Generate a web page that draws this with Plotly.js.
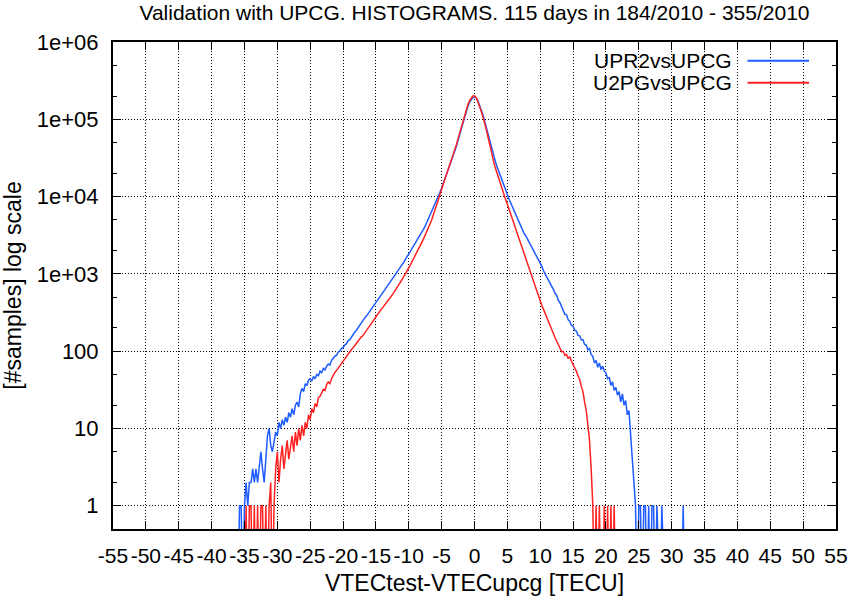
<!DOCTYPE html>
<html>
<head>
<meta charset="utf-8">
<script src="https://cdn.plot.ly/plotly-3.0.1.min.js"></script>
<style>
  html, body { margin: 0; padding: 0; background: #fff; }
  #chart { width: 850px; height: 598px; }
</style>
</head>
<body>
<div id="chart"></div>
<script>
// histogram bins, 0.25 TECU wide, counts
var BIN = 0.25;

// UPR2vsUPCG, first bin at -36 TECU (one row per TECU)
var upr2Start = -36;
var upr2Counts = [
  0, 1, 1, 0,            // -36
  1, 2, 1, 2,            // -35
  2, 3, 2, 3,
  2, 3, 5, 3,
  2, 4, 8, 10,           // -32
  6, 5, 7, 9,
  8, 12, 10, 13,         // -30
  11, 14, 12, 16,
  14, 18, 15, 20,
  22, 19, 28, 33,
  30, 38, 36, 42,
  44, 41, 47, 44,        // -25
  50, 48, 55, 52,
  60, 57, 64, 68,
  66, 76, 81, 86,
  88, 97, 100, 108,
  111, 120, 124, 136,    // -20
  140, 152, 160, 174,
  185, 200, 212, 230,
  244, 265, 280, 302,
  322, 345, 370, 400,
  425, 458, 490, 525,    // -15
  562, 602, 645, 692,
  741, 795, 851, 912,
  977, 1050, 1135, 1220,
  1318, 1420, 1549, 1660,
  1820, 1960, 2138, 2310, // -10
  2512, 2720, 2951, 3200,
  3467, 3800, 4169, 4650,
  5129, 5700, 6310, 7050,
  7943, 8900, 10000, 11350,
  12880, 14700, 16600, 19000, // -5
  21880, 25000, 28840, 33300,
  38900, 45200, 53700, 63800,
  77600, 92000, 109600, 128000,
  147900, 166000, 182000, 191000,
  195000, 190000, 175800, 156000, // 0
  134900, 116000, 97700, 81000,
  66070, 53700, 43650, 36300,
  30900, 26900, 23440, 20400,
  17780, 15500, 13490, 11800,
  10470, 9300, 8318, 7400, // 5
  6607, 5900, 5248, 4700,
  4169, 3760, 3388, 3160,
  2884, 2660, 2455, 2250,
  2042, 1860, 1698, 1550,
  1413, 1250, 1096, 990, // 10
  891, 820, 759, 690,
  630, 560, 530, 455,
  425, 372, 345, 300,
  295, 255, 245, 215,
  210, 185, 182, 160,    // 15
  158, 140, 140, 122,
  120, 104, 108, 90,
  86, 70, 76, 62,
  70, 58, 64, 55,
  52, 44, 46, 36,        // 20
  40, 31, 34, 27,
  30, 22, 28, 20,
  23, 15, 17, 8,
  4, 2, 1, 0,
  1, 1, 0, 1,            // 25
  1, 0, 1, 0,
  1, 1, 0, 1,
  0, 0, 1, 0,
  0, 0, 0, 0,
  0, 0, 0, 0,            // 30
  0, 0, 0, 1,
  0
];

// U2PGvsUPCG, first bin at -35 TECU
var u2pgStart = -35;
var u2pgCounts = [
  0, 1, 0, 1,            // -35
  1, 0, 1, 0,
  1, 0, 1, 1,
  0, 1, 0, 1,
  2, 0, 1, 3,
  5, 2, 4, 6,            // -30
  3, 5, 7, 4,
  6, 8, 5, 9,
  6, 10, 7, 11,
  8, 12, 10, 15,
  13, 18, 16, 21,        // -25
  19, 25, 26, 29,
  32, 31, 37, 40,
  38, 44, 49, 53,
  56, 60, 66, 70,
  74, 80, 85, 92,        // -20
  96, 104, 110, 118,
  123, 135, 141, 152,
  158, 172, 182, 196,
  209, 225, 240, 262,
  282, 302, 324, 343,    // -15
  363, 390, 417, 442,
  468, 505, 537, 575,
  617, 670, 724, 790,
  851, 920, 1000, 1090,
  1202, 1310, 1445, 1580, // -10
  1738, 1930, 2138, 2330,
  2570, 2840, 3162, 3500,
  3890, 4450, 5012, 5850,
  6607, 7900, 9120, 10800,
  12590, 14600, 16980, 19400, // -5
  22390, 25700, 29510, 34000,
  39810, 47000, 56230, 67000,
  81280, 97000, 114800, 134000,
  154900, 174000, 190500, 200000,
  201800, 192000, 169800, 150000, // 0
  128800, 109000, 93300, 76500,
  61660, 49000, 39810, 32300,
  26300, 22400, 19050, 16200,
  13800, 12000, 10470, 9100,
  7943, 6900, 6026, 5200, // 5
  4467, 3900, 3388, 2950,
  2570, 2240, 1950, 1680,
  1445, 1240, 1072, 920,
  794, 685, 589, 505,
  437, 390, 347, 305,    // 10
  275, 240, 219, 190,
  166, 150, 135, 118,
  110, 98, 100, 88,
  91, 80, 85, 74,
  68, 60, 55, 48,        // 15
  43, 35, 30, 22,
  17, 11, 7, 3,
  1, 0, 1, 0,
  1, 0, 0, 1,
  0, 1, 0, 1,            // 20
  0, 1, 0
];

var xTickVals = [-55, -50, -45, -40, -35, -30, -25, -20, -15, -10, -5, 0,
                 5, 10, 15, 20, 25, 30, 35, 40, 45, 50, 55];
// plain hyphen minus, as in the original
var xTickText = xTickVals.map(function (v) { return String(v); });
var yTickVals = [1, 10, 100, 1e3, 1e4, 1e5, 1e6];
var yTickText = ['1', '10', '100', '1e+03', '1e+04', '1e+05', '1e+06'];

// empty bins are pushed below the axis so the line drops off the bottom
var EMPTY = 0.05;

function binTrace(start, counts, name, color) {
  var x = counts.map(function (c, i) { return start + i * BIN; });
  var y = counts.map(function (c) { return c > 0 ? c : EMPTY; });
  return {
    x: x, y: y, name: name, type: 'scatter', mode: 'lines',
    line: {color: color, width: 1.5},
    hoverinfo: 'x+y+name'
  };
}

var BLUE = '#1f5cff';
var RED = '#ff2222';

var data = [
  binTrace(upr2Start, upr2Counts, 'UPR2vsUPCG', BLUE),
  binTrace(u2pgStart, u2pgCounts, 'U2PGvsUPCG', RED)
];

var axisCommon = {
  showline: true, linecolor: '#000', linewidth: 2, mirror: 'allticks',
  ticks: 'inside', ticklen: 8, tickwidth: 1, tickcolor: '#000',
  showgrid: true, gridcolor: '#000', gridwidth: 1, griddash: '1px,2px',
  zeroline: false
};

// gnuplot style key: text right aligned, line sample on its right
function keyEntry(name, color, yp) {
  return {
    text: {xref: 'paper', yref: 'paper', x: 0.8575, y: yp, xanchor: 'right', yanchor: 'middle',
           text: name, showarrow: false, font: {size: 21}, height: 21, valign: 'middle', borderpad: 0},
    line: {type: 'line', xref: 'paper', yref: 'paper', x0: 0.8776, x1: 0.9627, y0: yp, y1: yp,
           line: {color: color, width: 2}}
  };
}
var key1 = keyEntry('UPR2vsUPCG', BLUE, 0.9616);
var key2 = keyEntry('U2PGvsUPCG', RED, 0.9164);

var layout = {
  width: 850, height: 598,
  margin: {l: 113, r: 14, t: 42, b: 69},
  paper_bgcolor: '#fff', plot_bgcolor: '#fff',
  font: {family: '"Liberation Sans", Arial, sans-serif', size: 19, color: '#000'},
  showlegend: false,
  title: {
    text: 'Validation with UPCG. HISTOGRAMS. 115 days in 184/2010 - 355/2010',
    font: {size: 21}, x: 0.5, xref: 'paper', xanchor: 'center',
    y: 0.979, yref: 'container', yanchor: 'middle'
  },
  xaxis: Object.assign({}, axisCommon, {
    range: [-55, 55], tickmode: 'array', tickvals: xTickVals, ticktext: xTickText,
    tickangle: 0, tickfont: {size: 21},
    ticklabelstandoff: 7,
    title: {text: 'VTECtest-VTECupcg [TECU]', standoff: 9}
  }),
  yaxis: Object.assign({}, axisCommon, {
    type: 'log', range: [Math.log10(0.5), 6],
    tickmode: 'array', tickvals: yTickVals, ticktext: yTickText,
    tickfont: {size: 22},
    ticklabelstandoff: 8,
    minor: {dtick: 'D2', ticks: 'inside', ticklen: 4, tickcolor: '#000', showgrid: false},
    title: {text: '[#samples] log scale', standoff: 16}
  }),
  annotations: [key1.text, key2.text],
  shapes: [key1.line, key2.line]
};

Plotly.newPlot('chart', data, layout, {displayModeBar: false, staticPlot: true});
</script>
</body>
</html>
